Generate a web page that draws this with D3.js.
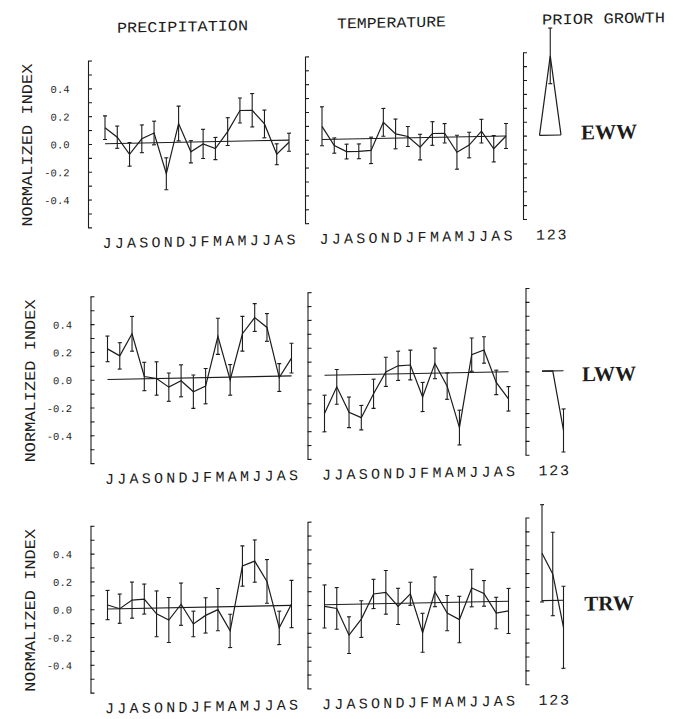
<!DOCTYPE html>
<html>
<head>
<meta charset="utf-8">
<script src="https://cdn.jsdelivr.net/npm/d3@7/dist/d3.min.js"></script>
<style>
  body { margin: 0; background: #fff; }
  text { font-family: "Liberation Mono", "DejaVu Sans Mono", monospace; fill: #1c1c1c; }
</style>
</head>
<body>
<svg width="678" height="719"></svg>
<script>
// categories / labels
const months = ["J","J","A","S","O","N","D","J","F","M","A","M","J","J","A","S"];
const lags = ["1","2","3"];
const columnTitles = ["PRECIPITATION", "TEMPERATURE", "PRIOR GROWTH"];
const rowNames = ["EWW", "LWW", "TRW"];
const tickLabels = [0.4, 0.2, 0.0, -0.2, -0.4];

// normalized index values and error bar half widths
const precipEWW    = [0.115, 0.045, -0.08, 0.03, 0.07, -0.225, 0.135, -0.07, -0.015, -0.05, 0.07, 0.22, 0.22, 0.12, -0.10, -0.015];
const precipEWWerr = [0.085, 0.08, 0.085, 0.10, 0.085, 0.115, 0.125, 0.08, 0.105, 0.08, 0.10, 0.09, 0.12, 0.10, 0.075, 0.065];
const tempEWW      = [0.095, -0.045, -0.09, -0.09, -0.085, 0.115, 0.03, 0.01, -0.068, 0.028, 0.028, -0.11, -0.06, 0.038, -0.09, 0.0];
const tempEWWerr   = [0.14, 0.055, 0.053, 0.053, 0.095, 0.10, 0.107, 0.072, 0.092, 0.085, 0.07, 0.122, 0.092, 0.085, 0.095, 0.09];
const priorEWW     = [0.0, 0.57, 0.0];
const priorEWWerr  = [null, 0.2, null];

const precipLWW    = [0.22, 0.168, 0.325, 0.016, 0.0, -0.064, -0.02, -0.10, -0.062, 0.295, -0.02, 0.31, 0.425, 0.352, -0.01, 0.128];
const precipLWWerr = [0.092, 0.095, 0.125, 0.102, 0.12, 0.102, 0.115, 0.12, 0.127, 0.13, 0.11, 0.125, 0.10, 0.10, 0.10, 0.107];
const tempLWW      = [-0.275, -0.085, -0.27, -0.31, -0.14, 0.016, 0.058, 0.062, -0.17, 0.07, -0.095, -0.395, 0.128, 0.16, -0.075, -0.195];
const tempLWWerr   = [0.132, 0.125, 0.11, 0.088, 0.105, 0.105, 0.105, 0.107, 0.105, 0.11, 0.095, 0.125, 0.12, 0.095, 0.088, 0.088];
const priorLWW     = [0.0, 0.0, -0.43];
const priorLWWerr  = [null, null, 0.155];

const precipTRW    = [0.028, 0.0, 0.06, 0.066, -0.042, -0.088, 0.024, -0.12, -0.06, -0.02, -0.175, 0.29, 0.324, 0.176, -0.16, 0.01];
const precipTRWerr = [0.105, 0.105, 0.13, 0.108, 0.165, 0.162, 0.152, 0.092, 0.127, 0.152, 0.12, 0.145, 0.152, 0.157, 0.12, 0.17];
const tempTRW      = [-0.012, -0.028, -0.222, -0.108, 0.071, 0.081, -0.022, 0.067, -0.215, 0.078, -0.077, -0.125, 0.1, 0.06, -0.083, -0.07];
const tempTRWerr   = [0.155, 0.15, 0.132, 0.132, 0.105, 0.157, 0.13, 0.083, 0.14, 0.107, 0.127, 0.167, 0.135, 0.092, 0.113, 0.162];
const priorTRW     = [0.34, 0.19, -0.195];
const priorTRWerr  = [0.35, 0.30, 0.295];

const panels = [
  [[precipEWW, precipEWWerr], [tempEWW, tempEWWerr], [priorEWW, priorEWWerr]],
  [[precipLWW, precipLWWerr], [tempLWW, tempLWWerr], [priorLWW, priorLWWerr]],
  [[precipTRW, precipTRWerr], [tempTRW, tempTRWerr], [priorTRW, priorTRWerr]]
];

// layout
const rowZero = [145.7, 381.5, 611];
const colAxis = [88, 305, 523];
const rowShift = [0, 2.5, 2.5];
const halfH = 83.4;
const titleX = [182.5, 391.5, 603.5], titleLen = [131, 109, 123];
const nameDy = [5, 11, 11];
const ink = "#1c1c1c";

const svg = d3.select("svg");
// the scanned figure is slightly skewed (right side higher)
const root = svg.append("g").attr("transform", "skewY(-1.1)");

columnTitles.forEach((t, c) => {
  root.append("text")
    .attr("x", titleX[c] - titleLen[c] / 2).attr("y", 35)
    .attr("font-size", 15)
    .attr("textLength", titleLen[c]).attr("lengthAdjust", "spacingAndGlyphs")
    .text(t);
});

rowNames.forEach((name, r) => {
  const zero = rowZero[r];
  const y = d3.scaleLinear().domain([-0.6, 0.6]).range([zero + halfH, zero - halfH]);
  const bottom = zero + halfH;

  for (let c = 0; c < 3; c++) {
    const ax = colAxis[c] + rowShift[r];
    const g = root.append("g");
    const [vals, errs] = panels[r][c];
    const cats = c < 2 ? d3.range(months.length) : d3.range(lags.length);
    const x = c < 2
      ? d3.scalePoint().domain(cats).range([ax + 17, ax + 201])
      : d3.scalePoint().domain(cats).range([ax + 16.5, ax + 38]);

    // axis with inward ticks every 0.1
    const axis = g.append("g").attr("transform", `translate(${ax},0)`)
      .call(d3.axisRight(y)
        .tickValues(d3.range(-6, 7).map(d => d / 10))
        .tickSizeInner(4).tickSizeOuter(0)
        .tickFormat(""));
    axis.selectAll("path, line").attr("stroke", ink).attr("stroke-width", 1.1);

    if (c === 0) {
      const lab = g.append("g").attr("transform", `translate(${ax},0)`)
        .call(d3.axisLeft(y).tickValues(tickLabels).tickSize(0).tickPadding(18.5)
          .tickFormat(d => d.toFixed(1)));
      lab.select(".domain").remove();
      lab.selectAll("text").attr("font-size", 10.5).attr("fill", ink)
        .attr("font-family", "Liberation Mono, DejaVu Sans Mono, monospace");

      g.append("text")
        .attr("transform", `translate(${ax - 56},${zero}) rotate(-90)`)
        .attr("text-anchor", "middle")
        .attr("font-size", 15)
        .attr("textLength", 163).attr("lengthAdjust", "spacingAndGlyphs")
        .text("NORMALIZED INDEX");
    }

    // zero reference line
    g.append("line")
      .attr("x1", x(cats[0])).attr("x2", x(cats[cats.length - 1]))
      .attr("y1", y(0)).attr("y2", y(0))
      .attr("stroke", ink).attr("stroke-width", 1.1);

    // error bars
    const bars = g.append("g").attr("stroke", ink).attr("stroke-width", 1.1);
    cats.forEach(i => {
      if (errs[i] == null) return;
      const xi = x(i), hi = y(vals[i] + errs[i]), lo = y(vals[i] - errs[i]);
      bars.append("line").attr("x1", xi).attr("x2", xi).attr("y1", hi).attr("y2", lo);
      bars.append("line").attr("x1", xi - 2).attr("x2", xi + 2).attr("y1", hi).attr("y2", hi);
      bars.append("line").attr("x1", xi - 2).attr("x2", xi + 2).attr("y1", lo).attr("y2", lo);
    });

    // index line
    g.append("path")
      .datum(cats)
      .attr("fill", "none").attr("stroke", ink).attr("stroke-width", 1.2)
      .attr("d", d3.line().x(i => x(i)).y(i => y(vals[i])));

    // category letters
    const letters = c < 2 ? months : lags;
    g.selectAll(".cat").data(cats).join("text")
      .attr("x", i => x(i) + (c < 2 ? 2 : 1))
      .attr("y", bottom + 21)
      .attr("text-anchor", "middle")
      .attr("font-size", 15)
      .text(i => letters[i]);
  }

  root.append("text")
    .attr("x", 609).attr("y", zero + nameDy[r])
    .attr("text-anchor", "middle")
    .style("font-family", "'Liberation Serif', 'DejaVu Serif', serif")
    .attr("font-weight", "bold")
    .attr("font-size", 21)
    .text(name);
});
</script>
</body>
</html>
